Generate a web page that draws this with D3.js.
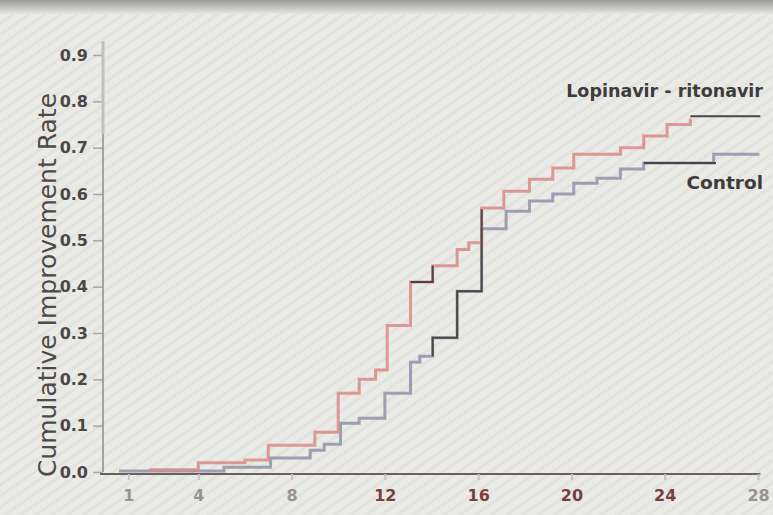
<!DOCTYPE html>
<html>
<head>
<meta charset="utf-8">
<script src="https://cdn.jsdelivr.net/npm/d3@7"></script>
<style>
  body { margin: 0; background: #e8e8e4; }
  svg { display: block; }
</style>
</head>
<body>
<svg id="chart" width="773" height="515"></svg>
<script>
// Step curves: [month, cumulative rate]
const lopinavirT = [1.9, 4.0, 6.0, 7.0, 9.0, 10.0, 10.9, 11.6, 12.1, 13.1, 14.05, 15.1, 15.6, 16.15, 17.1, 18.2, 19.2, 20.1, 22.1, 23.1, 24.1, 25.1];
const lopinavirV = [0.005, 0.02, 0.026, 0.058, 0.086, 0.17, 0.2, 0.22, 0.316, 0.41, 0.445, 0.48, 0.495, 0.57, 0.606, 0.632, 0.656, 0.686, 0.70, 0.725, 0.75, 0.763];
const controlT = [0.6, 5.1, 7.1, 8.8, 9.4, 10.1, 10.9, 12.0, 13.1, 13.5, 14.05, 15.1, 16.15, 17.2, 18.2, 19.2, 20.1, 21.1, 22.1, 23.1, 26.1, 28.0];
const controlV = [0.002, 0.01, 0.03, 0.047, 0.06, 0.105, 0.116, 0.17, 0.237, 0.25, 0.29, 0.39, 0.525, 0.563, 0.585, 0.60, 0.623, 0.634, 0.654, 0.667, 0.686, 0.688];

// dark overlay strokes drawn on top of the curves
const darkSegs = [
  [[13.1, 0.41], [14.05, 0.41], [14.05, 0.445]],
  [[14.05, 0.25], [14.05, 0.29], [15.1, 0.29], [15.1, 0.39], [16.15, 0.39], [16.15, 0.567]],
  [[25.1, 0.768], [28.1, 0.768]],
  [[23.1, 0.667], [26.2, 0.667]]
];

const xTicks = [1, 4, 8, 12, 16, 20, 24, 28];
const yTicks = [0, 0.1, 0.2, 0.3, 0.4, 0.5, 0.6, 0.7, 0.8, 0.9];
const yLabel = "Cumulative Improvement Rate";
const seriesNames = ["Lopinavir - ritonavir", "Control"];

const svg = d3.select("#chart");
const defs = svg.append("defs");

// faint diagonal texture of the photographed page
const pat = defs.append("pattern")
  .attr("id", "stripes")
  .attr("width", 9).attr("height", 9)
  .attr("patternUnits", "userSpaceOnUse")
  .attr("patternTransform", "rotate(-35)");
pat.append("rect").attr("width", 9).attr("height", 9).attr("fill", "#eaeae7");
pat.append("rect").attr("width", 9).attr("height", 3).attr("fill", "#e2e2de");

const topShade = defs.append("linearGradient").attr("id", "topShade").attr("x1", 0).attr("y1", 0).attr("x2", 0).attr("y2", 1);
topShade.append("stop").attr("offset", "0%").attr("stop-color", "#9a9995");
topShade.append("stop").attr("offset", "100%").attr("stop-color", "#e5e5e1");

svg.append("rect").attr("width", 773).attr("height", 515).attr("fill", "url(#stripes)");
svg.append("rect").attr("width", 773).attr("height", 14).attr("fill", "url(#topShade)");

const x = d3.scaleLinear().domain([0, 28]).range([105, 758]);
const y = d3.scaleLinear().domain([0, 0.9]).range([472, 55]);

// y axis
const yAxis = svg.append("g")
  .attr("transform", "translate(103,0)")
  .call(d3.axisLeft(y).tickValues(yTicks).tickSize(10).tickPadding(5).tickFormat(d3.format(".1f")));
yAxis.select(".domain").remove();
yAxis.selectAll(".tick line").attr("stroke", "#a9a8a4").attr("stroke-width", 1.5);
yAxis.selectAll(".tick text")
  .attr("fill", "#4a4746").attr("font-family", "DejaVu Sans").attr("font-weight", "bold").attr("font-size", 16);
yAxis.append("line")
  .attr("y1", y(0)).attr("y2", y(0.73))
  .attr("stroke", "#8e8c88").attr("stroke-width", 1.5);
yAxis.append("line")
  .attr("y1", y(0.73)).attr("y2", y(0.93))
  .attr("stroke", "#c2c1bd").attr("stroke-width", 3);

// x axis
const xAxis = svg.append("g")
  .attr("transform", "translate(0," + (y(0) + 2) + ")")
  .call(d3.axisBottom(x).tickValues(xTicks).tickSize(6).tickPadding(10).tickSizeOuter(0));
xAxis.select(".domain").attr("stroke", "#6f5f5b").attr("stroke-width", 2)
  .attr("d", "M" + (x(0) - 5) + ",0H" + x(28.1));
xAxis.selectAll(".tick line").attr("stroke", "#c5c4c0").attr("stroke-width", 2);
xAxis.selectAll(".tick text")
  .attr("font-family", "DejaVu Sans").attr("font-weight", "bold").attr("font-size", 16)
  .attr("fill", d => d < 12 || d > 24 ? "#9a9290" : "#7a3f3c");

// y label
svg.append("text")
  .attr("transform", "translate(56," + 285 + ") rotate(-90)")
  .attr("text-anchor", "middle")
  .attr("font-family", "DejaVu Sans").attr("font-size", 25)
  .attr("fill", "#4d4a48")
  .text(yLabel);

// curves
const line = d3.line().x(d => x(d[0])).y(d => y(d[1])).curve(d3.curveStepAfter);
const lopinavir = lopinavirT.map((t, i) => [t, lopinavirV[i]]);
const control = controlT.map((t, i) => [t, controlV[i]]);

svg.append("path").datum(control)
  .attr("fill", "none").attr("stroke", "#8f93a8").attr("stroke-width", 3).attr("opacity", 0.85)
  .attr("d", line);
svg.append("path").datum(lopinavir)
  .attr("fill", "none").attr("stroke", "#d98a82").attr("stroke-width", 3).attr("opacity", 0.85)
  .attr("d", line);

svg.selectAll(".dark").data(darkSegs).enter().append("path")
  .attr("class", "dark")
  .attr("fill", "none").attr("stroke", "#4a4444").attr("stroke-width", 2)
  .attr("d", d3.line().x(d => x(d[0])).y(d => y(d[1])));

// series labels
svg.append("text")
  .attr("x", 763).attr("y", 97).attr("text-anchor", "end")
  .attr("font-family", "DejaVu Sans").attr("font-weight", "bold").attr("font-size", 17.5)
  .attr("fill", "#3f3c3b")
  .text(seriesNames[0]);
svg.append("text")
  .attr("x", 763).attr("y", 189).attr("text-anchor", "end")
  .attr("font-family", "DejaVu Sans").attr("font-weight", "bold").attr("font-size", 18.5)
  .attr("fill", "#3f3c3b")
  .text(seriesNames[1]);
</script>
</body>
</html>
